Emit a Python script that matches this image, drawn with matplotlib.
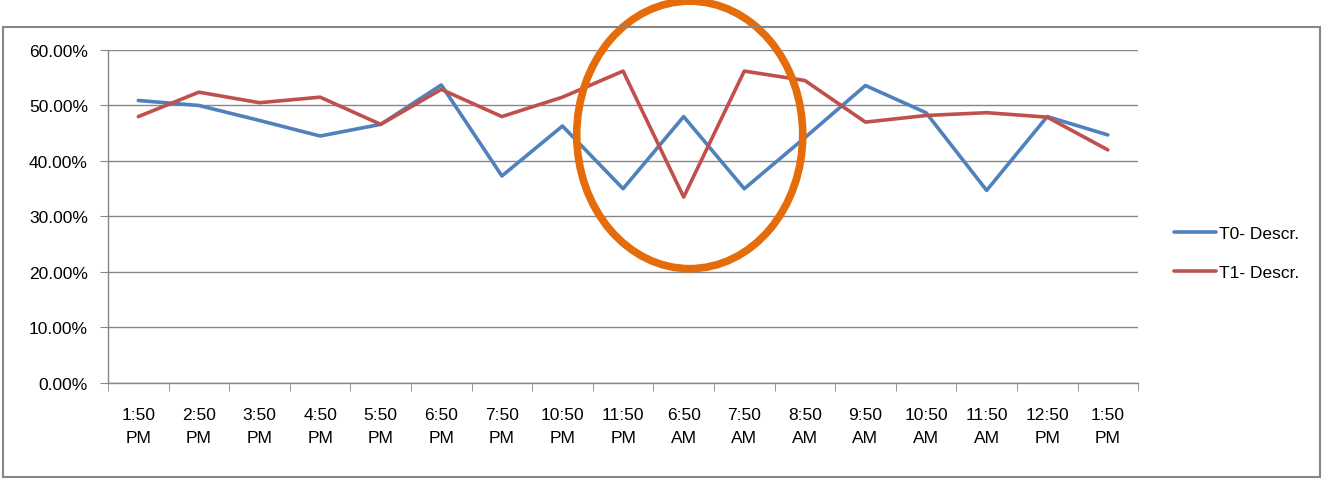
import matplotlib.pyplot as plt
from matplotlib.patches import Ellipse, Rectangle
from matplotlib.ticker import FuncFormatter, FixedLocator

# times of each reading
times = ['1:50\nPM', '2:50\nPM', '3:50\nPM', '4:50\nPM', '5:50\nPM', '6:50\nPM',
         '7:50\nPM', '10:50\nPM', '11:50\nPM', '6:50\nAM', '7:50\nAM', '8:50\nAM',
         '9:50\nAM', '10:50\nAM', '11:50\nAM', '12:50\nPM', '1:50\nPM']

# share of descriptions (%)
t0 = [50.9, 50.0, 47.3, 44.5, 46.6, 53.7, 37.3, 46.3, 35.0, 48.0,
      35.0, 44.2, 53.6, 48.7, 34.7, 48.0, 44.7]
t1 = [48.0, 52.4, 50.5, 51.5, 46.6, 52.9, 48.0, 51.5, 56.2, 33.5,
      56.2, 54.5, 47.0, 48.2, 48.7, 47.9, 42.0]

plt.rcParams['font.family'] = ['Liberation Sans', 'DejaVu Sans']
plt.rcParams['font.size'] = 12.5

fig = plt.figure(figsize=(13.24, 4.81), dpi=100)
ax = fig.add_axes([0.0816, 0.2017, 0.778, 0.6923])

x = list(range(len(times)))
ax.plot(x, t0, color='#4F81BD', lw=2.6, label='T0- Descr.', solid_capstyle='round')
ax.plot(x, t1, color='#C0504D', lw=2.6, label='T1- Descr.', solid_capstyle='round')

ax.set_xlim(-0.5, len(times) - 0.5)
ax.set_ylim(0, 60)
ax.set_yticks(range(0, 61, 10))
ax.yaxis.set_major_formatter(FuncFormatter(lambda v, p: f'{v:.2f}%'))
ax.yaxis.grid(True, color='#878787', lw=1)
ax.set_axisbelow(True)

# category labels centred, tick marks at the boundaries
ax.set_xticks(x)
ax.set_xticklabels(times, linespacing=1.7)
ax.xaxis.set_minor_locator(FixedLocator([i - 0.5 for i in range(len(times) + 1)]))
ax.tick_params(axis='x', which='major', length=0, pad=17)
ax.tick_params(axis='x', which='minor', length=5.5, color='#878787', direction='out')
ax.tick_params(axis='y', length=5.5, color='#878787', direction='out', pad=9)

for s in ['top', 'right']:
    ax.spines[s].set_visible(False)
for s in ['left', 'bottom']:
    ax.spines[s].set_color('#878787')
    ax.spines[s].set_linewidth(1)

ax.legend(loc='center left', bbox_to_anchor=(1.02, 0.39), frameon=False,
          handlelength=2.4, handletextpad=0.2, labelspacing=1.4)

# orange circle around the overnight dip
ax.add_patch(Ellipse((9.1, 44.7), 3.73, 48.2, fill=False, edgecolor='#E46C0A',
                     lw=5.5, clip_on=False, zorder=5))

# chart border
fig.patches.append(Rectangle((3 / 1324, 3 / 481), 1317 / 1324, 450 / 481,
                             transform=fig.transFigure, fill=False,
                             edgecolor='#868686', lw=1.5))

fig.savefig('out.png', dpi=100)
